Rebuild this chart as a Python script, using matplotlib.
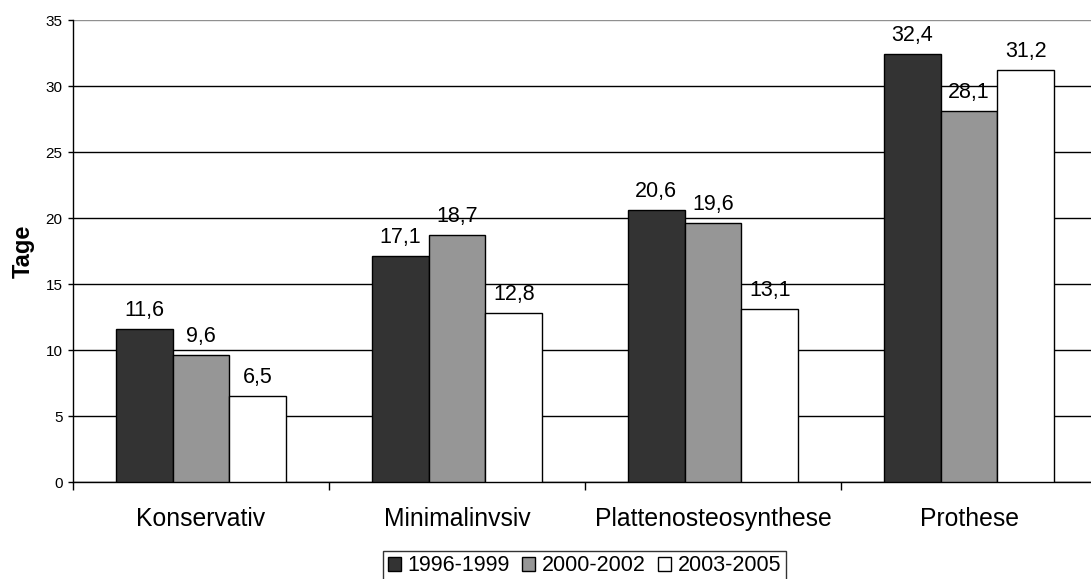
import matplotlib
matplotlib.use("Agg")
import matplotlib.pyplot as plt
import numpy as np

categories = ["Konservativ", "Minimalinvsiv", "Plattenosteosynthese", "Prothese"]
series_names = ["1996-1999", "2000-2002", "2003-2005"]
values_1996_1999 = [11.6, 17.1, 20.6, 32.4]
values_2000_2002 = [9.6, 18.7, 19.6, 28.1]
values_2003_2005 = [6.5, 12.8, 13.1, 31.2]
series_colors = ["#333333", "#969696", "#ffffff"]
y_ticks = [0, 5, 10, 15, 20, 25, 30, 35]

plt.rcParams["font.family"] = ["Liberation Sans", "DejaVu Sans"]

fig = plt.figure(figsize=(10.91, 5.79), dpi=100)
# plot area: 256 px per category, running slightly past the right edge
ax = fig.add_axes([73 / 1091, 1 - 482 / 579, 1024 / 1091, 462 / 579])

x = np.arange(len(categories))
bar_w = 2 / 9
all_series = [values_1996_1999, values_2000_2002, values_2003_2005]
handles = []
for i, (vals, col, name) in enumerate(zip(all_series, series_colors, series_names)):
    pos = x + (i - 1) * bar_w
    bars = ax.bar(pos, vals, width=bar_w, color=col, edgecolor="black",
                  linewidth=1.0, label=name, zorder=3)
    handles.append(bars)
    for px, v in zip(pos, vals):
        ax.annotate(f"{v:.1f}".replace(".", ","), (px, v), xytext=(0, 6),
                    textcoords="offset points", ha="center", va="bottom",
                    fontsize=15.5, zorder=4)

ax.set_xlim(-0.5, len(categories) - 0.5)
ax.set_ylim(0, 35)
ax.set_yticks(y_ticks)
ax.tick_params(axis="y", direction="out", length=3.6, width=1, labelsize=11, pad=4)
ax.set_xticks(np.arange(len(categories) + 1) - 0.5, minor=False)
ax.set_xticklabels([])
ax.tick_params(axis="x", direction="out", length=5.8, width=1, which="major")
ax.set_xticks(x, minor=True)
ax.set_xticklabels(categories, minor=True, fontsize=17.8)
ax.tick_params(axis="x", which="minor", length=0, pad=18)

ax.yaxis.grid(True, color="black", linewidth=1.0, zorder=0)
ax.set_axisbelow(True)
for side in ["top", "right"]:
    ax.spines[side].set_visible(False)
ax.spines["left"].set_linewidth(1.0)
ax.spines["bottom"].set_linewidth(1.0)
gl = ax.get_ygridlines()
gl[-1].set_color("#909090")

ax.set_ylabel("Tage", fontsize=17, fontweight="bold", labelpad=8)

leg = fig.legend(handles=handles, labels=series_names, loc="lower center",
                 bbox_to_anchor=(584.5 / 1091, -0.003), ncol=3, frameon=True, fancybox=False,
                 edgecolor="black", fontsize=15.5, handlelength=0.6, handleheight=0.6,
                 handletextpad=0.3, columnspacing=0.6, borderpad=0.2, borderaxespad=0)
leg.get_frame().set_linewidth(1.0)

fig.savefig("out.png", dpi=100)
